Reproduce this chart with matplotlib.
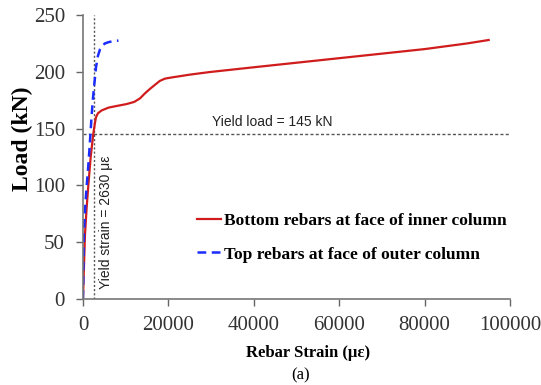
import matplotlib
matplotlib.use("Agg")
import matplotlib.pyplot as plt

# Load vs. rebar strain for two gauge locations
bottom_strain = [0, 200, 470, 850, 1250, 1800, 2400, 2800, 3050, 3500, 4370, 6000,
                 8000, 10200, 12000, 13350, 14500, 15700, 17000, 18000, 19200,
                 20400, 25000, 29700, 40000, 50000, 60000, 70000, 80000, 90000, 95000]
bottom_load = [0, 25, 57, 80, 100, 125, 145, 155, 160, 163.5, 166, 168.5,
               170, 171.6, 173.5, 176.6, 181, 185, 189, 192, 194,
               194.8, 197.5, 199.8, 204, 208, 212, 216, 220, 225, 228]

top_strain = [0, 200, 500, 870, 1200, 1480, 2000, 2300, 2650, 3050, 3500, 4000,
              4500, 5150, 5900, 7000, 8300]
top_load = [0, 57, 80, 100, 115, 130, 160, 175, 189, 204, 214, 220,
            223, 225, 226, 227, 227.5]

yield_strain = 2630
yield_load = 145

x_ticks = [0, 20000, 40000, 60000, 80000, 100000]
y_ticks = [0, 50, 100, 150, 200, 250]

serif = ["Liberation Serif", "DejaVu Serif"]
sans = ["Liberation Sans", "DejaVu Sans"]

fig = plt.figure(figsize=(5.41, 3.85), dpi=100)
ax = fig.add_axes([0.1534, 0.2234, 0.7893, 0.7376])

ax.plot(bottom_strain, bottom_load, color="#d01c1c", lw=1.6,
        label="Bottom rebars at face of inner column")
ax.plot(top_strain, top_load, color="#1a2cff", lw=1.8, ls=(0, (3.5, 2.2)),
        label="Top rebars at face of outer column")

ax.axvline(yield_strain, color="#555555", lw=1.0, ls=(0, (1.5, 1.5)), zorder=1)
ax.axhline(yield_load, color="#555555", lw=1.0, ls=(0, (2.2, 1.6)), zorder=1)

ax.text(30300, yield_load + 4.5, "Yield load = 145 kN", fontsize=10,
        family=sans, ha="left", va="bottom", color="#222222")
ax.text(yield_strain + 1100, 9, "Yield strain = 2630 \u03bc\u03b5", fontsize=10,
        family=sans, rotation=90, ha="left", va="bottom", color="#222222")

ax.set_xlim(0, 100000)
ax.set_ylim(0, 250)
ax.set_xticks(x_ticks)
ax.set_yticks(y_ticks)
ax.set_xticklabels([str(v) for v in x_ticks], family=serif, fontsize=15, color="#333333")
ax.set_yticklabels([str(v) for v in y_ticks], family=serif, fontsize=15, color="#333333")
ax.tick_params(axis="both", direction="out", length=5, width=1.0, color="#666666")
ax.tick_params(axis="x", pad=7)
ax.tick_params(axis="y", pad=8)

for side in ("top", "right"):
    ax.spines[side].set_visible(False)
for side in ("left", "bottom"):
    ax.spines[side].set_color("#777777")
    ax.spines[side].set_linewidth(1.2)

ax.set_ylabel("Load (kN)", family=serif, fontweight="bold", fontsize=17)
ax.yaxis.set_label_coords(-0.118, 0.565)
ax.set_xlabel("Rebar Strain (\u03bc\u03b5)", family=serif, fontweight="bold", fontsize=12)
ax.xaxis.set_label_coords(0.526, -0.163)
fig.text(0.555, 0.026, "(a)", family=serif, fontsize=12, ha="center", va="center")

leg = ax.legend(loc="upper left", bbox_to_anchor=(0.251, 0.329), frameon=False,
                prop={"family": serif, "weight": "bold", "size": 12.5},
                handlelength=1.4, handletextpad=0.12, labelspacing=1.02,
                borderaxespad=0)

fig.savefig("out.png", dpi=100)
